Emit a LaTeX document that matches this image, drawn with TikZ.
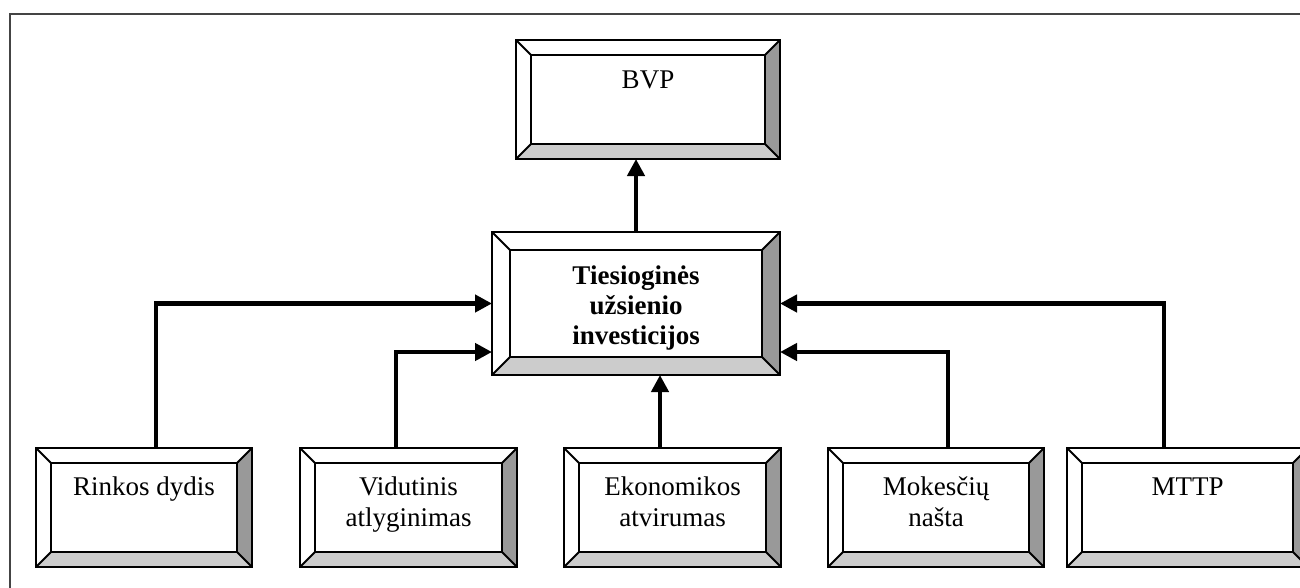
\documentclass[tikz,border=0pt]{standalone}
\usepackage{fontspec}
\setmainfont{Liberation Serif}
\usetikzlibrary{calc,arrows.meta}
\definecolor{rgray}{HTML}{999999}
\definecolor{bgray}{HTML}{CCCCCC}
\definecolor{framec}{HTML}{444444}
\tikzset{
 bbox/.style={rectangle, draw=none, inner sep=0pt, outer sep=0pt},
 edge/.style={line width=2pt, line join=miter},
 arr/.style={line width=4.5pt, -{Triangle[length=17pt,width=17pt]}},
 lbl/.style={anchor=north, inner sep=0pt, align=center, font=\fontsize{27}{31}\selectfont},
}
\newcommand\bevelbox[6]{%
 \node[bbox, minimum width={#4-#2}, minimum height={#5-#3}] (#1) at ({(#2+#4)/2},{(#3+#5)/2}) {};
 \fill[white] (#1.north west) rectangle (#1.south east);
 \fill[rgray] (#1.north east) -- (#1.south east) -- ($(#1.south east)+(-#6,-#6)$) -- ($(#1.north east)+(-#6,#6)$) -- cycle;
 \fill[bgray] (#1.south west) -- (#1.south east) -- ($(#1.south east)+(-#6,-#6)$) -- ($(#1.south west)+(#6,-#6)$) -- cycle;
 \draw[edge] ($(#1.north west)+(#6,#6)$) rectangle ($(#1.south east)+(-#6,-#6)$);
 \draw[edge] (#1.north west) -- ++(#6,#6) (#1.north east) -- ++(-#6,#6) (#1.south west) -- ++(#6,-#6) (#1.south east) -- ++(-#6,-#6);
 \draw[edge] (#1.north west) rectangle (#1.south east);
}
\begin{document}
\begin{tikzpicture}[x=1pt,y=-1pt]
\useasboundingbox (0,0) rectangle (1300,587);
\fill[white] (0,0) rectangle (1300,587);
\draw[framec, line width=2.5pt] (10,600) -- (10,14) -- (1310,14);

\bevelbox{b}{516}{40}{780}{159}{15}
\bevelbox{c}{492}{232}{780}{375}{18}
\bevelbox{r}{36}{448}{252}{567}{15}
\bevelbox{v}{300}{448}{517}{567}{15}
\bevelbox{e}{564}{448}{781}{567}{15}
\bevelbox{m}{828}{448}{1044}{567}{15}
\bevelbox{t}{1067}{448}{1308}{567}{15}

\node[lbl] (bt) at (648,68) {\rule{0pt}{20pt}BVP};
\node[lbl, font=\fontsize{27}{30}\selectfont\bfseries] (ct) at (636,264) {\rule{0pt}{20pt}Tiesioginės\\užsienio\\investicijos};
\node[lbl] (rt) at (144,475) {\rule{0pt}{20pt}Rinkos dydis};
\node[lbl] (vt) at (408.5,475) {\rule{0pt}{20pt}Vidutinis\\atlyginimas};
\node[lbl] (et) at (672.5,475) {\rule{0pt}{20pt}Ekonomikos\\atvirumas};
\node[lbl] (mt) at (936,475) {\rule{0pt}{20pt}Mokesčių\\našta};
\node[lbl] (tt) at (1187.5,475) {\rule{0pt}{20pt}MTTP};

\draw[arr] (c.north) -- (c.north |- b.south);
\draw[arr] ([xshift=12pt]r.north) |- (c.west);
\draw[arr] ([xshift=-12.5pt]v.north) |- ([yshift=-48.5pt]c.west);
\draw[arr] ([xshift=-12.5pt]e.north) -- ([xshift=-12.5pt]e.north |- c.south);
\draw[arr] ([xshift=12pt]m.north) |- ([yshift=-48.5pt]c.east);
\draw[arr] ([xshift=-23.5pt]t.north) |- (c.east);
\end{tikzpicture}
\end{document}
